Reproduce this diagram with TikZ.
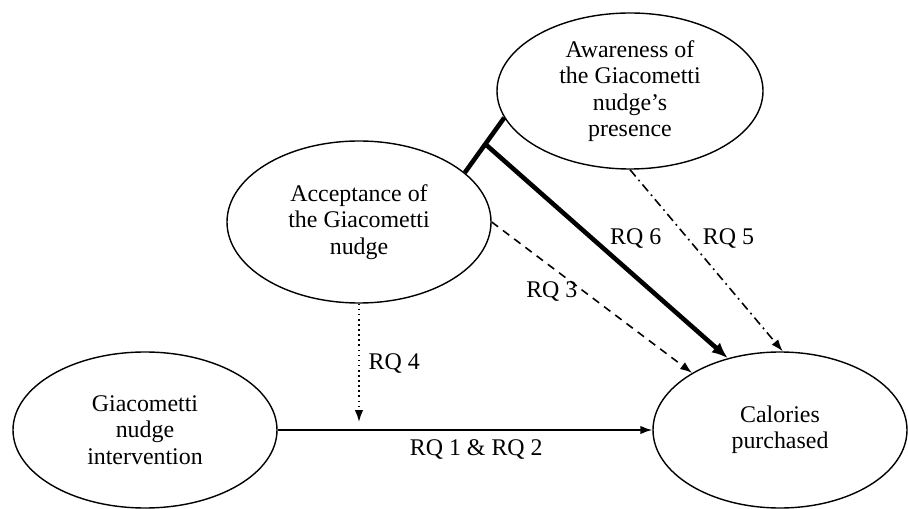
\documentclass[tikz,border=0pt]{standalone}
\usepackage{fontspec}
\setmainfont{Liberation Serif}
\usetikzlibrary{shapes.geometric,arrows.meta}

\begin{document}
\begin{tikzpicture}[font=\fontsize{13.6}{15}\selectfont,
    var/.style={draw,ellipse,line width=0.8pt,inner sep=0pt,align=center},
    tip/.style={-{Latex[length=2.4mm,width=1.7mm]}},
    bigtip/.style={-{Latex[length=3.2mm,width=2.6mm]}},
    lbl/.style={inner sep=1pt}]
  \useasboundingbox (0,0) rectangle (18.16,10.16);
  \node[var,minimum width=5.28cm,minimum height=3.12cm] (gia) at (2.90,1.56) {Giacometti\\nudge\\intervention};
  \node[var,minimum width=5.08cm,minimum height=3.12cm] (cal) at (15.60,1.56) {Calories\\purchased};
  \node[var,minimum width=5.28cm,minimum height=3.24cm] (acc) at (7.18,5.72) {Acceptance of\\the Giacometti\\nudge};
  \node[var,minimum width=5.32cm,minimum height=3.12cm] (aw) at (12.60,8.34) {Awareness of\\the Giacometti\\nudge’s\\presence};

  \draw[tip,line width=0.9pt] (gia.east) -- node[lbl,pos=0.53,below=4pt] (rq12) {RQ 1 \& RQ 2} (cal.west);
  \draw[tip,dotted,line width=0.9pt,shorten >=0.16cm] (acc.south) -- node[lbl,pos=0.47,right=4pt] (rq4) {RQ 4} (acc.south |- gia.east);
  \draw[tip,dashed,line width=0.9pt,dash pattern=on 4.5pt off 3.5pt] (acc.east) -- node[lbl,pos=0.3,below=7pt] (rq3) {RQ 3} (cal.147);
  \draw[line width=2.6pt] (acc.25) -- coordinate[pos=0.52] (jn) (aw.192);
  \draw[bigtip,line width=2.6pt] (jn) -- node[lbl,pos=0.44,right=8pt] (rq6) {RQ 6} (cal.126);
  \draw[tip,line width=0.9pt,dash pattern=on 5pt off 2.5pt on 1pt off 2.5pt] (aw.south) -- node[lbl,pos=0.38,right=7pt] (rq5) {RQ 5} (cal.88);
\end{tikzpicture}
\end{document}
